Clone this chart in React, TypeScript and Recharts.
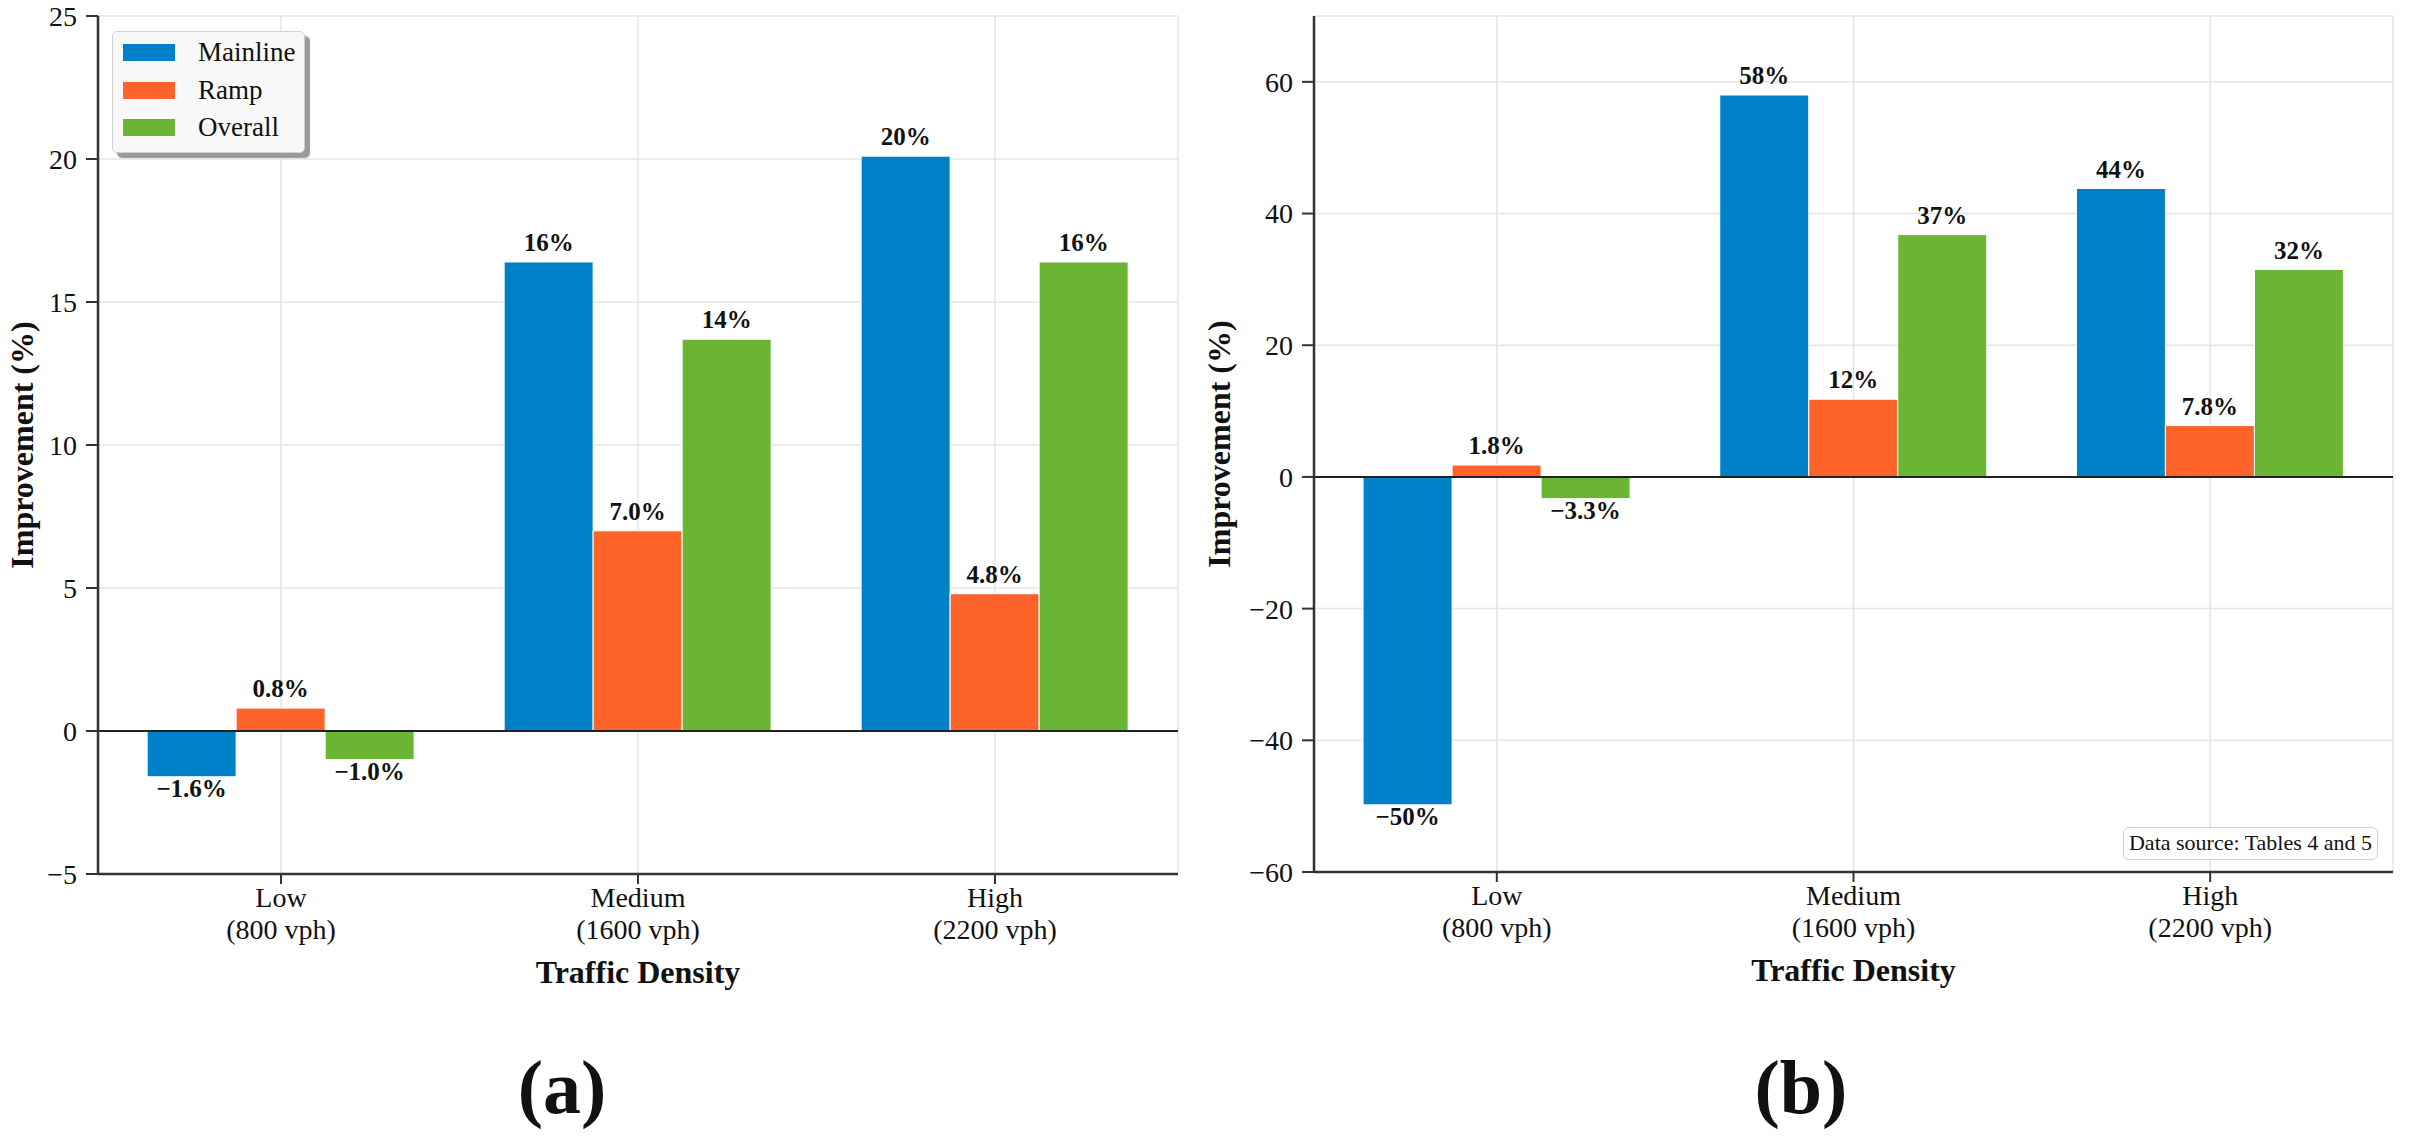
import {
  BarChart,
  Bar,
  XAxis,
  YAxis,
  CartesianGrid,
  ReferenceLine,
  LabelList,
  Legend,
} from "recharts";

const FONT = '"Liberation Serif", "Times New Roman", serif';

const densities = ["Low", "Medium", "High"];
const volumes = ["(800 vph)", "(1600 vph)", "(2200 vph)"];
const seriesNames = ["Mainline", "Ramp", "Overall"];
const seriesColors = ["#0080c6", "#fe6329", "#6bb535"];

// panel (a)
const mainlineA = [-1.6, 16.4, 20.1];
const rampA = [0.8, 7.0, 4.8];
const overallA = [-1.0, 13.7, 16.4];
const ticksA = [-5, 0, 5, 10, 15, 20, 25];

// panel (b)
const mainlineB = [-49.8, 58.0, 43.8];
const rampB = [1.8, 11.8, 7.8];
const overallB = [-3.3, 36.8, 31.5];
const ticksB = [-60, -40, -20, 0, 20, 40, 60];

const buildRows = (m: number[], r: number[], o: number[]) =>
  densities.map((d, i) => ({ name: d, mainline: m[i], ramp: r[i], overall: o[i] }));

const dataA = buildRows(mainlineA, rampA, overallA);
const dataB = buildRows(mainlineB, rampB, overallB);

const minus = (s: string) => s.replace("-", "\u2212");

const fmtValue = (v: number) =>
  minus(Math.abs(v) >= 10 ? String(Math.round(v)) : v.toFixed(1)) + "%";

const BarValue = (props: any) => {
  const { x, y, width, height, value } = props;
  if (value == null) return null;
  const top = Math.min(y, y + height);
  const bottom = Math.max(y, y + height);
  const ty = value >= 0 ? top - 11 : bottom + 20;
  return (
    <text
      x={x + width / 2}
      y={ty}
      textAnchor="middle"
      fontSize={25}
      fontWeight="bold"
      fontFamily={FONT}
      fill="#111"
    >
      {fmtValue(value)}
    </text>
  );
};

const CategoryTick = (props: any) => {
  const { x, y, payload } = props;
  const i = densities.indexOf(payload.value);
  return (
    <text x={x} y={y} textAnchor="middle" fontSize={28} fontFamily={FONT} fill="#111">
      <tspan x={x} dy={23}>
        {payload.value}
      </tspan>
      <tspan x={x} dy={32}>
        {volumes[i]}
      </tspan>
    </text>
  );
};

const yTitle = (cx: number) => (props: any) => {
  const vb = props.viewBox || {};
  const cy = vb.height ? vb.y + vb.height / 2 : 445;
  return (
    <text
      x={cx}
      y={cy}
      transform={`rotate(-90 ${cx} ${cy})`}
      textAnchor="middle"
      dominantBaseline="central"
      fontSize={32}
      fontWeight="bold"
      fontFamily={FONT}
      fill="#111"
    >
      Improvement (%)
    </text>
  );
};

const xTitle = (props: any) => {
  const vb = props.viewBox || {};
  const cx = vb.x + vb.width / 2;
  return (
    <text
      x={cx}
      y={vb.y + 109}
      textAnchor="middle"
      fontSize={32}
      fontWeight="bold"
      fontFamily={FONT}
      fill="#111"
    >
      Traffic Density
    </text>
  );
};

const LegendBox = () => (
  <div
    style={{
      width: 193,
      height: 122,
      boxSizing: "border-box",
      background: "#f8f8f8",
      border: "1.5px solid #d0d0d0",
      borderRadius: 5,
      boxShadow: "5px 5px 1px #9a9a9a",
      padding: "2px 0 0 10px",
      fontFamily: FONT,
      fontSize: 27,
      color: "#111",
    }}
  >
    {seriesNames.map((n, i) => (
      <div key={n} style={{ display: "flex", alignItems: "center", height: 37.5 }}>
        <span
          style={{
            display: "inline-block",
            width: 52,
            height: 17,
            background: seriesColors[i],
            marginRight: 23,
          }}
        />
        <span>{n}</span>
      </div>
    ))}
  </div>
);

const axisLine = { stroke: "#333", strokeWidth: 2.5 };
const tickLine = { stroke: "#333", strokeWidth: 2 };

const Panel = ({
  data,
  ticks,
  domain,
  yWidth,
  width,
  bottom,
  right,
  titleX,
  legend,
}: any) => (
  <BarChart
    width={width}
    height={1141}
    data={data}
    margin={{ top: 16, right, bottom, left: 0 }}
    barCategoryGap="12.5%"
    barGap={0}
  >
    <CartesianGrid stroke="#e4e4e4" strokeWidth={1.5} />
    <XAxis
      dataKey="name"
      height={120}
      padding={{ left: 4.5, right: 4.5 }}
      axisLine={axisLine}
      tickLine={tickLine}
      tickSize={10}
      tickMargin={0}
      tick={<CategoryTick />}
      interval={0}
      label={{ content: xTitle }}
    />
    <YAxis
      width={yWidth}
      domain={domain}
      ticks={ticks}
      allowDataOverflow
      axisLine={axisLine}
      tickLine={tickLine}
      tickSize={12}
      tickMargin={9}
      tickFormatter={(v: number) => minus(String(v))}
      tick={{ fontSize: 28, fontFamily: FONT, fill: "#111" }}
      label={{ content: yTitle(titleX) }}
    />
    {legend && (
      <Legend
        layout="horizontal"
        verticalAlign="middle"
        align="center"
        wrapperStyle={{ top: 31, left: 112, width: 193, height: 122 }}
        content={<LegendBox />}
      />
    )}
    <Bar dataKey="mainline" name="Mainline" fill={seriesColors[0]} stroke="#fff" strokeWidth={1} isAnimationActive={false}>
      <LabelList dataKey="mainline" content={<BarValue />} />
    </Bar>
    <Bar dataKey="ramp" name="Ramp" fill={seriesColors[1]} stroke="#fff" strokeWidth={1} isAnimationActive={false}>
      <LabelList dataKey="ramp" content={<BarValue />} />
    </Bar>
    <Bar dataKey="overall" name="Overall" fill={seriesColors[2]} stroke="#fff" strokeWidth={1} isAnimationActive={false}>
      <LabelList dataKey="overall" content={<BarValue />} />
    </Bar>
    <ReferenceLine y={0} stroke="#222" strokeWidth={2} />
  </BarChart>
);

const panelLetter = (cx: number, text: string) => (
  <div
    style={{
      position: "absolute",
      left: cx - 60,
      width: 120,
      top: 1042,
      textAlign: "center",
      fontFamily: FONT,
      fontSize: 76,
      fontWeight: "bold",
      lineHeight: "90px",
      color: "#111",
    }}
  >
    {text}
  </div>
);

export default function App() {
  return (
    <div
      style={{
        position: "absolute",
        left: 0,
        top: 0,
        width: 2409,
        height: 1141,
        background: "#fff",
        overflow: "hidden",
      }}
    >
      <div style={{ position: "absolute", left: 0, top: 0 }}>
        <Panel
          data={dataA}
          ticks={ticksA}
          domain={[-5, 25]}
          yWidth={98}
          width={1200}
          right={22}
          bottom={147}
          titleX={22}
          legend
        />
      </div>
      <div style={{ position: "absolute", left: 1180, top: 0 }}>
        <Panel
          data={dataB}
          ticks={ticksB}
          domain={[-60, 70]}
          yWidth={134}
          width={1229}
          right={16}
          bottom={149}
          titleX={39}
        />
      </div>
      <div
        style={{
          position: "absolute",
          left: 2123,
          top: 827,
          width: 255,
          height: 33,
          boxSizing: "border-box",
          border: "1.5px solid #cfcfcf",
          borderRadius: 6,
          background: "#fff",
          fontFamily: FONT,
          fontSize: 22,
          lineHeight: "30px",
          textAlign: "center",
          color: "#111",
        }}
      >
        Data source: Tables 4 and 5
      </div>
      {panelLetter(562, "(a)")}
      {panelLetter(1801, "(b)")}
    </div>
  );
}
